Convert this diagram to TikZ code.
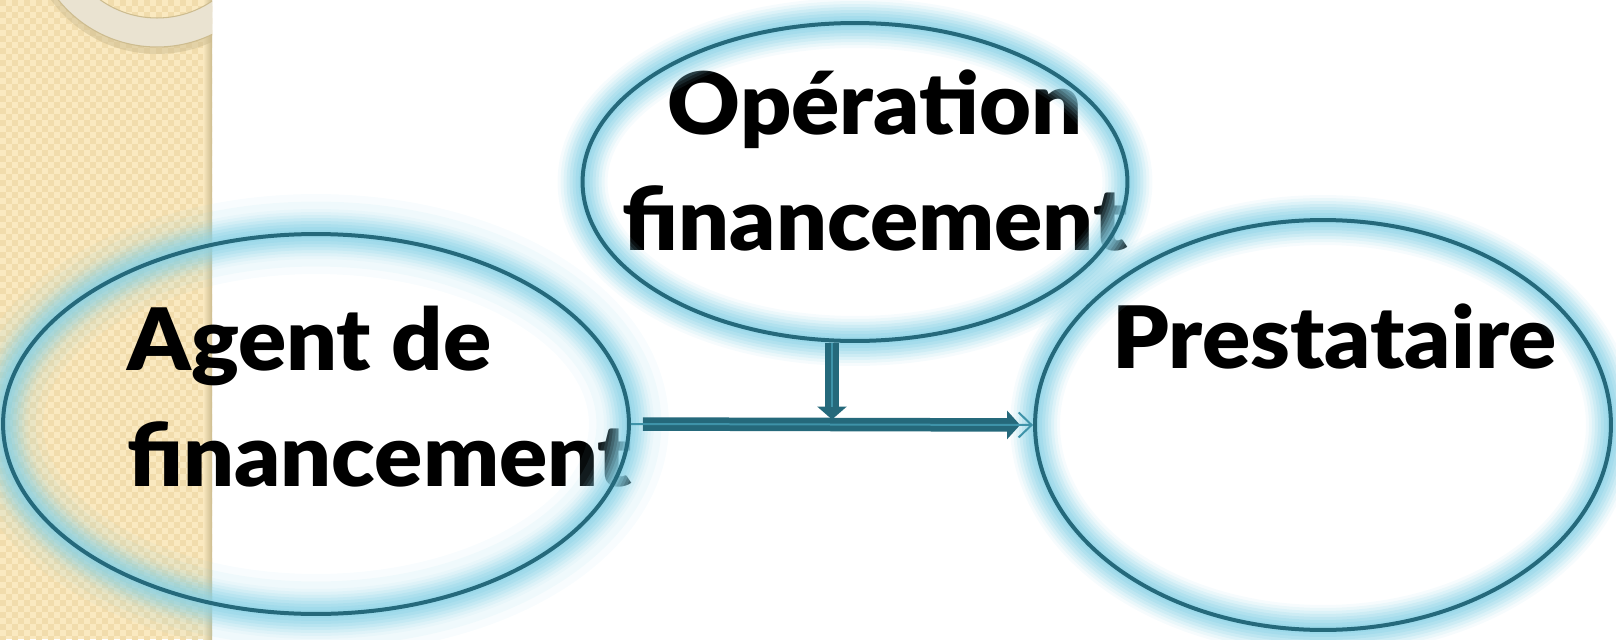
\documentclass[tikz,border=0pt]{standalone}
\usepackage{fontspec}
\setmainfont{Lato}[BoldFont={* Black}]
\usetikzlibrary{shapes.geometric,arrows.meta}

\definecolor{edgeteal}{HTML}{25697B}
\definecolor{glowblue}{HTML}{8AD2E6}
\definecolor{barlight}{HTML}{3E93A9}
\definecolor{paper}{HTML}{FAE9C0}
\definecolor{paperdark}{HTML}{F1DCAC}
\definecolor{ringfill}{HTML}{EAE3D1}
\definecolor{ringedge}{HTML}{CDBC8F}

\tikzset{
  bubble/.style={ellipse, draw=edgeteal, line width=0.08cm, inner sep=0pt,
    preaction={draw=glowblue, line width=1.0cm, draw opacity=0.08},
    preaction={draw=glowblue, line width=0.88cm, draw opacity=0.11},
    preaction={draw=glowblue, line width=0.76cm, draw opacity=0.14},
    preaction={draw=glowblue, line width=0.64cm, draw opacity=0.18},
    preaction={draw=glowblue, line width=0.52cm, draw opacity=0.22},
    preaction={draw=glowblue, line width=0.4cm, draw opacity=0.26},
    preaction={draw=glowblue, line width=0.28cm, draw opacity=0.3},
    preaction={draw=glowblue, line width=0.16cm, draw opacity=0.35}},
  wideglow/.style={
    preaction={draw=glowblue, line width=1.6cm, draw opacity=0.06},
    preaction={draw=glowblue, line width=1.3cm, draw opacity=0.08}},
  bigtext/.style={font=\fontsize{49}{66}\selectfont\bfseries, inner sep=0pt,
    transform shape, xscale=1.04},
  bar/.style={draw=edgeteal, line width=0.27cm},
  barcore/.style={draw=barlight, line width=0.04cm},
}

\begin{document}
\begin{tikzpicture}[x=0.02cm,y=-0.02cm]
  \useasboundingbox (0,0) rectangle (1616,639);
  % paper strip on the left
  \fill[paper] (0,0) rectangle (212,639);
  \begin{scope}
    \clip (0,0) rectangle (212,639);
    \foreach \i in {0,...,17}
      \foreach \j in {0,...,53} {
        \fill[paperdark] (12*\i,12*\j) rectangle ++(6,6);
        \fill[paperdark] (12*\i+6,12*\j+6) rectangle ++(6,6);
      }
    \shade[left color=paper, right color=ringedge] (203,0) rectangle (212,639);
    % ring in the corner
    \fill[ringedge, opacity=.5, even odd rule] (157,-77) circle[radius=2.62cm] (157,-80) circle[radius=1.96cm];
    \fill[ringfill, even odd rule] (157,-80) circle[radius=2.54cm] (157,-80) circle[radius=1.96cm];
    \draw[ringedge, line width=0.6pt] (157,-80) circle[radius=2.54cm] (157,-80) circle[radius=1.96cm];
  \end{scope}

  % texts
  \node[bigtext, anchor=north west, align=left] (agenttxt) at (127,306) {Agent de\\financement};
  \node[bigtext, anchor=north, align=center] (optxt) at (875,69) {Opération\\financement};
  \node[bigtext, anchor=base west] (presttxt) at (1112,368) {Prestataire};

  % bubbles
  \node[wideglow, bubble, minimum width=12.52cm, minimum height=7.6cm] (agent) at (316,424) {};
  \node[bubble, minimum width=10.9cm, minimum height=6.36cm] (operation) at (855,182) {};
  \node[bubble, minimum width=11.52cm, minimum height=8.2cm] (prest) at (1323,425) {};

  % arrows
  \path (agent.east) -- (prest.west) coordinate[pos=0.5] (meet);
  \draw[bar, -{Triangle[length=0.26cm,width=0.56cm]}, shorten <=0.24cm, shorten >=0.26cm] (agent.east) -- (prest.west);
  \draw[barcore, -{Straight Barb[length=0.26cm,width=0.5cm]}] (agent.east) -- (prest.west);
  \draw[bar, -{Triangle[length=0.26cm,width=0.58cm]}, shorten >=0.1cm] (meet |- operation.south) -- (meet);
  \draw[barcore, shorten >=0.36cm] (meet |- operation.south) -- (meet);
\end{tikzpicture}
\end{document}
